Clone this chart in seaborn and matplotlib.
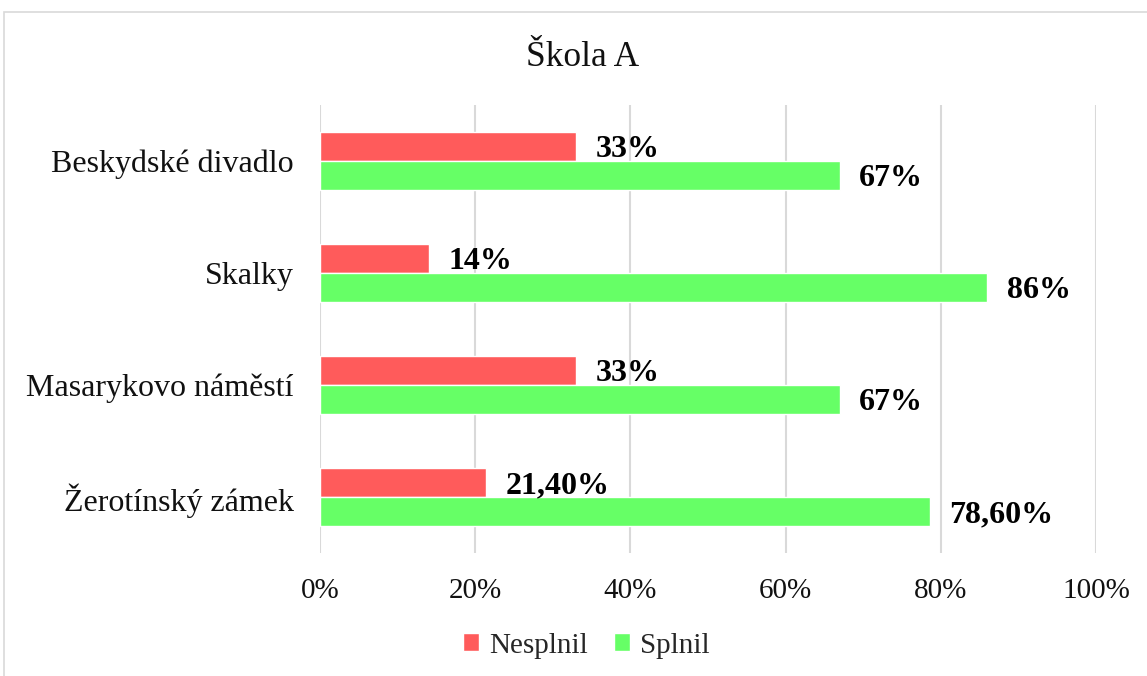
import matplotlib
matplotlib.use("Agg")
import matplotlib.pyplot as plt
import pandas as pd
import seaborn as sns
from matplotlib.patches import Rectangle

places = ["Beskydské divadlo", "Skalky", "Masarykovo náměstí", "Žerotínský zámek"]
nesplnil = [33, 14, 33, 21.4]
splnil = [67, 86, 67, 78.6]
nesplnil_labels = ["33%", "14%", "33%", "21,40%"]
splnil_labels = ["67%", "86%", "67%", "78,60%"]
x_ticks = [0, 20, 40, 60, 80, 100]
x_ticklabels = ["0%", "20%", "40%", "60%", "80%", "100%"]

def main():
    df = pd.DataFrame({
        "place": places * 2,
        "value": nesplnil + splnil,
        "result": ["Nesplnil"] * len(places) + ["Splnil"] * len(places),
    })

    sns.set_theme(style="white")
    plt.rcParams["font.family"] = ["Liberation Serif", "DejaVu Serif"]

    fig = plt.figure(figsize=(11.47, 6.76), dpi=100)
    ax = fig.add_axes([0.279, 0.182, 0.6765, 0.663])

    sns.barplot(data=df, y="place", x="value", hue="result", orient="h",
                palette={"Nesplnil": "#FF5B5B", "Splnil": "#66FF66"},
                width=0.52, gap=0, saturation=1, ax=ax, legend=True)

    for container, labels in zip(ax.containers, [nesplnil_labels, splnil_labels]):
        anns = ax.bar_label(container, labels=labels, padding=14, fontsize=23,
                            fontweight="bold", color="black")
        # Excel puts the labels a touch lower than the bar centre
        for a in anns:
            a.xyann = (a.xyann[0], -2.5)

    ax.set_xlim(0, 100)
    ax.set_xticks(x_ticks)
    ax.set_xticklabels(x_ticklabels)
    ax.tick_params(axis="both", length=0, colors="#111111")
    ax.tick_params(axis="x", pad=18, labelsize=21)
    ax.tick_params(axis="y", pad=19, labelsize=23)
    ax.xaxis.grid(True, color="#D9D9D9", linewidth=1.5)
    ax.set_axisbelow(True)
    for s in ax.spines.values():
        s.set_visible(False)
    ax.set_xlabel("")
    ax.set_ylabel("")

    handles, labels = ax.get_legend_handles_labels()
    ax.get_legend().remove()
    fig.legend(handles, labels, loc="center", bbox_to_anchor=(0.511, 0.045),
               ncol=2, frameon=False, fontsize=21, handlelength=0.55,
               handleheight=0.55, handletextpad=0.35, columnspacing=0.9)

    fig.text(0.508, 0.915, "Škola A", ha="center", va="center", fontsize=25.5,
             color="#111111")

    fig.patches.append(Rectangle((4 / 1147, -0.1), 1.2, 1 - 12 / 676 + 0.1,
                                 transform=fig.transFigure, fill=False,
                                 edgecolor="#D9D9D9", linewidth=1.2))

    fig.savefig("out.png", dpi=100)
    plt.close(fig)

if __name__ == "__main__":
    main()
